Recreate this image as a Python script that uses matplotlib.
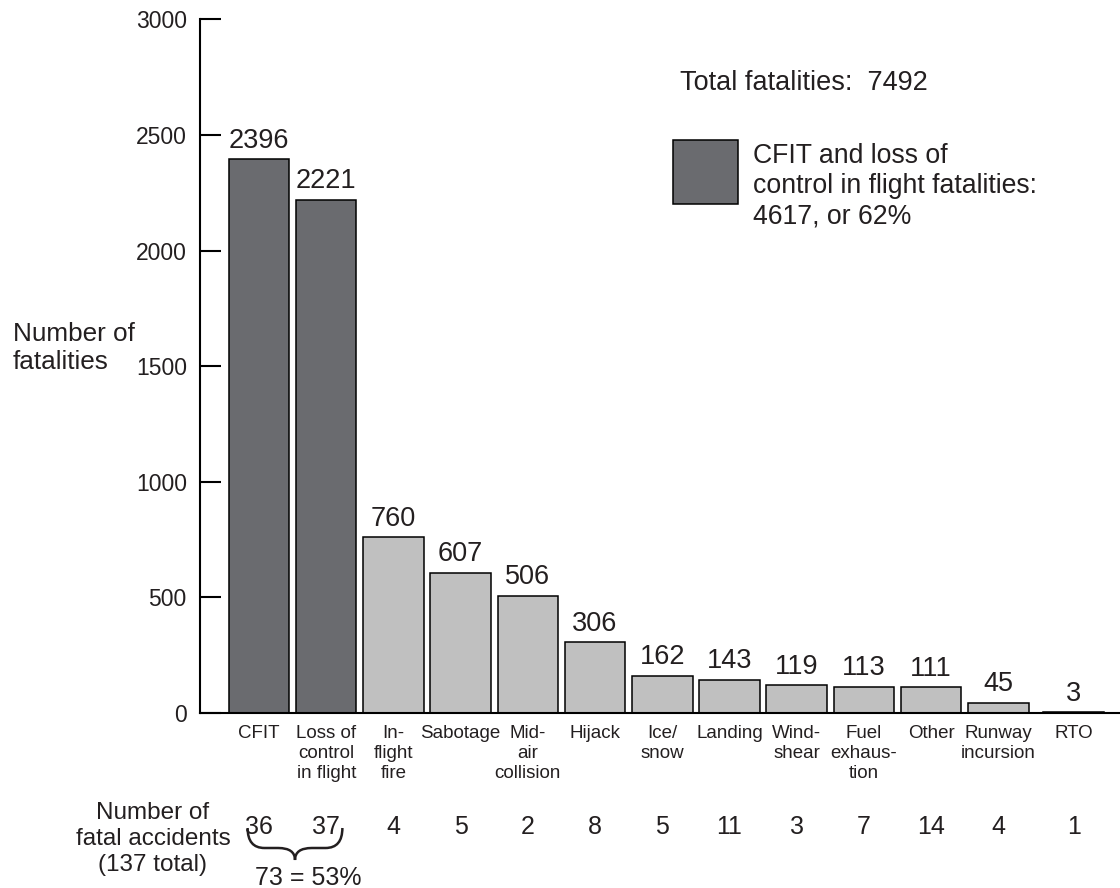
import numpy as np
import matplotlib
matplotlib.use("Agg")
import matplotlib.pyplot as plt
from matplotlib.patches import Rectangle, PathPatch
from matplotlib.path import Path
from matplotlib.transforms import blended_transform_factory

plt.rcParams["font.family"] = ["Liberation Sans", "DejaVu Sans"]

# Data
categories = ["CFIT", "Loss of\ncontrol\nin flight", "In-\nflight\nfire", "Sabotage",
              "Mid-\nair\ncollision", "Hijack", "Ice/\nsnow", "Landing", "Wind-\nshear",
              "Fuel\nexhaus-\ntion", "Other", "Runway\nincursion", "RTO"]
fatalities = [2396, 2221, 760, 607, 506, 306, 162, 143, 119, 113, 111, 45, 3]
accidents = [36, 37, 4, 5, 2, 8, 5, 11, 3, 7, 14, 4, 1]
highlight = [True, True] + [False] * 11

TXT = "#231f20"
DARK = "#6a6b6f"
LIGHT = "#c0c0c0"

fig = plt.figure(figsize=(11.2, 8.88), dpi=100)
ax = fig.add_axes([0.1786, 0.1971, 0.8214, 0.781])

pos = np.arange(len(categories), dtype=float)
pos[-1] += 0.12  # small extra gap before RTO
colors = [DARK if h else LIGHT for h in highlight]

ax.bar(pos, fatalities, width=0.9, color=colors, edgecolor="black", linewidth=1.1, zorder=2)
for x, v in zip(pos, fatalities):
    ax.annotate(str(v), (x, v), xytext=(0, 4), textcoords="offset points",
                ha="center", va="bottom", fontsize=19.5, color=TXT)

ax.set_xlim(-0.878, 12.81)
ax.set_ylim(0, 3000)
ax.set_yticks([0, 500, 1000, 1500, 2000, 2500, 3000])
ax.set_xticks(pos)
ax.set_xticklabels(categories, fontsize=13.5, color=TXT, linespacing=1.22)
ax.tick_params(axis="x", length=0, pad=9)
ax.tick_params(axis="y", direction="in", length=15, width=1.5, pad=9.5,
               labelsize=16.5, labelcolor=TXT)
for s in ["top", "right"]:
    ax.spines[s].set_visible(False)
for s in ["left", "bottom"]:
    ax.spines[s].set_linewidth(1.5)

# y label
fig.text(13 / 1120, 1 - 348 / 888, "Number of\nfatalities", fontsize=18.8, color=TXT,
         ha="left", va="center", linespacing=1.25)

# Total and legend box
fig.text(680 / 1120, 1 - 83 / 888, "Total fatalities:  7492", fontsize=19.5, color=TXT,
         ha="left", va="center")
fig.patches.append(Rectangle((673 / 1120, 1 - 204 / 888), 65 / 1120, 64 / 888,
                             transform=fig.transFigure, facecolor=DARK,
                             edgecolor="black", linewidth=1.1))
fig.text(753 / 1120, 1 - 186 / 888,
         "CFIT and loss of\ncontrol in flight fatalities:\n4617, or 62%",
         fontsize=19.2, color=TXT, ha="left", va="center", linespacing=1.22)

# Number of fatal accidents row
tr = blended_transform_factory(ax.transData, fig.transFigure)
fig.text(153 / 1120, 1 - 839 / 888, "Number of\nfatal accidents\n(137 total)",
         fontsize=17.5, color=TXT, ha="center", va="center", linespacing=1.25)
for x, n in zip(pos, accidents):
    ax.text(x, 1 - 827 / 888, str(n), transform=tr, fontsize=18, color=TXT,
            ha="center", va="center", clip_on=False)

# brace under first two counts
xl, xr = pos[0] - 0.17, pos[1] + 0.24
xm = (xl + xr) / 2
yt, ym, yb = 1 - 828 / 888, 1 - 848 / 888, 1 - 860 / 888
verts = [(xl, yt), (xl, ym), (xl + 0.25, ym),
         (xm - 0.25, ym), (xm - 0.0, ym), (xm, yb),
         (xm, ym), (xm + 0.25, ym),
         (xr - 0.25, ym), (xr, ym), (xr, yt)]
codes = [Path.MOVETO, Path.CURVE3, Path.CURVE3,
         Path.LINETO, Path.CURVE3, Path.CURVE3,
         Path.CURVE3, Path.CURVE3,
         Path.LINETO, Path.CURVE3, Path.CURVE3]
ax.add_patch(PathPatch(Path(verts, codes), transform=tr, facecolor="none",
                       edgecolor=TXT, linewidth=1.8, clip_on=False))
n12 = accidents[0] + accidents[1]
ax.text(xm + 0.2, 1 - 878 / 888, f"{n12} = {round(100 * n12 / sum(accidents))}%",
        transform=tr, fontsize=18, color=TXT, ha="center", va="center", clip_on=False)

fig.savefig("out.png", dpi=100)
